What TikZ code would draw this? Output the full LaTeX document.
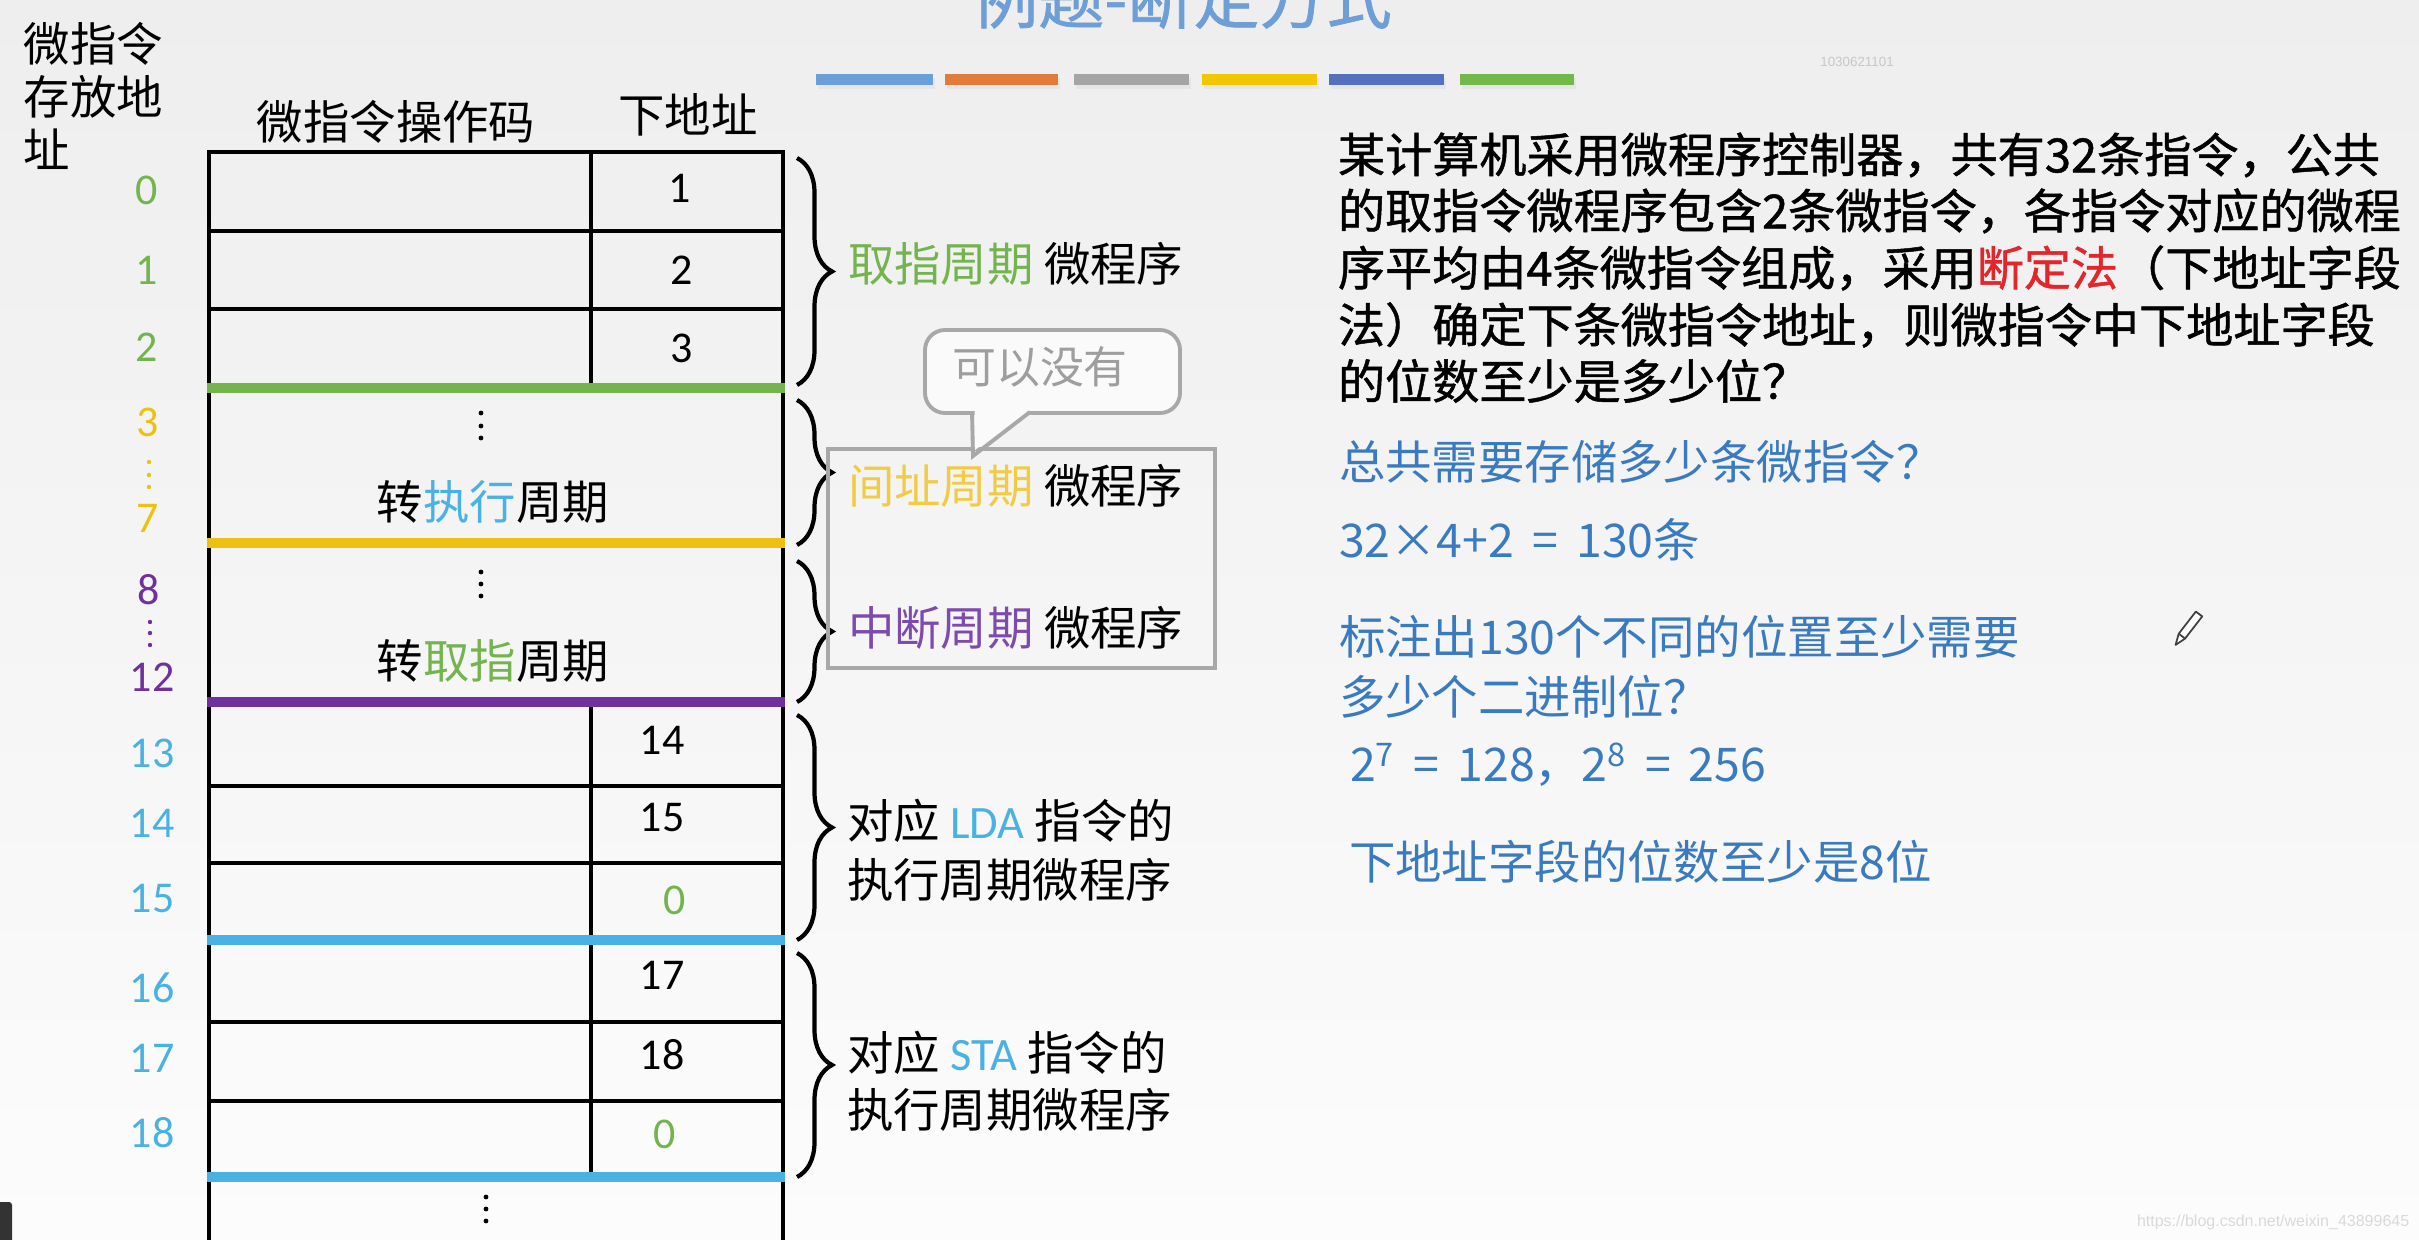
\documentclass[tikz,border=0pt]{standalone}
\usepackage{fontspec}
\setmainfont{Carlito}
\newfontfamily\cjk{Noto Sans CJK SC}
\newfontfamily\cjkb[FakeBold=1]{Noto Sans CJK SC}
\newfontfamily\calfont{Carlito}
\newfontfamily\arialfont{Liberation Sans}
\usetikzlibrary{decorations.pathreplacing}
\definecolor{bgtop}{HTML}{EEEEEE}
\definecolor{bgbot}{HTML}{FCFCFC}
\definecolor{cgreen}{HTML}{74B44E}
\definecolor{cyellow}{HTML}{EDC012}
\definecolor{ytext}{HTML}{F2CB45}
\definecolor{cpurple}{HTML}{7030A0}
\definecolor{ptext}{HTML}{7D4AAE}
\definecolor{cblue}{HTML}{4AB2E3}
\definecolor{ansblue}{HTML}{3A7BC0}
\definecolor{cred}{HTML}{E3262B}
\definecolor{titleblue}{HTML}{6E9ED6}
\definecolor{boxgray}{HTML}{A8A8A8}
\definecolor{bubtext}{HTML}{9E9E9E}
\definecolor{bar1}{HTML}{6A9FD8}
\definecolor{bar2}{HTML}{E07B39}
\definecolor{bar3}{HTML}{A5A5A5}
\definecolor{bar4}{HTML}{F2C600}
\definecolor{bar5}{HTML}{5470BF}
\definecolor{bar6}{HTML}{72B84A}
\definecolor{darkc}{HTML}{333333}
\begin{document}
\begin{tikzpicture}[x=0.01cm, y=-0.01cm,
  every node/.style={inner sep=0pt, outer sep=0pt},
  cjktext/.style={font=\cjk\fontsize{13.2pt}{15.1pt}\selectfont},
  num/.style={font=\calfont\fontsize{12.5pt}{14pt}\selectfont},
  tline/.style={line width=1.3pt, black},
  sepline/.style={line width=3.1pt},
  bracestyle/.style={decorate, decoration={brace, amplitude=0.35cm}, line width=1.2pt},
  lbl/.style={cjktext, anchor=west},
  para/.style={anchor=west, font=\cjkb\fontsize{13.4pt}{16pt}\selectfont},
  ans/.style={anchor=west, text=ansblue, font=\cjk\fontsize{13.2pt}{16pt}\selectfont},
  dotb/.style={fill=black}
]
\useasboundingbox (0,0) rectangle (2419,1240);
\shade[top color=bgtop, bottom color=bgbot] (0,0) rectangle (2419,1240);

% title and bars
\node[font=\cjkb\fontsize{18.8pt}{20pt}\selectfont, text=titleblue] (title) at (1182,-2) {例题-断定方式};
\foreach \a/\b/\c in {816/933/bar1, 945/1058/bar2, 1074/1189/bar3, 1202/1317/bar4, 1329/1444/bar5, 1460/1574/bar6} {
  \fill[black!10] (\a+2,78) rectangle (\b+2,89);
  \fill[\c] (\a,74) rectangle (\b,85);
}
\node[font=\arialfont\fontsize{3.8pt}{4pt}\selectfont, text=black!22] (code) at (1857,62) {1030621101};

% headers
\node[cjktext, anchor=west, align=left] (haddr) at (24,96) {微指令\\存放地\\址};
\node[cjktext] (hop) at (396,122) {微指令操作码};
\node[cjktext] (hnext) at (688,115) {下地址};

% address labels
\node[num, text=cgreen] (a0) at (147,190) {0};
\node[num, text=cgreen] (a1) at (147,270) {1};
\node[num, text=cgreen] (a2) at (147,347) {2};
\node[num, text=cyellow] (a3) at (148,422) {3};
\foreach \y in {462,475,487} \fill[cyellow] (149,\y) circle (0.022cm);
\node[num, text=cyellow] (a7) at (148,518) {7};
\node[num, text=cpurple] (a8) at (149,590) {8};
\foreach \y in {622,633,645} \fill[cpurple] (150,\y) circle (0.022cm);
\node[num, text=cpurple] (a12) at (152,677) {12};
\node[num, text=cblue] (a13) at (152,753) {13};
\node[num, text=cblue] (a14) at (152,823) {14};
\node[num, text=cblue] (a15) at (152,898) {15};
\node[num, text=cblue] (a16) at (152,988) {16};
\node[num, text=cblue] (a17) at (152,1058) {17};
\node[num, text=cblue] (a18) at (152,1133) {18};

% table
\draw[tline] (209,152) -- (209,1245);
\draw[tline] (783,152) -- (783,1245);
\draw[tline] (207,152) -- (785,152);
\foreach \y in {231,309,786,863,1022,1101} \draw[tline] (209,\y) -- (783,\y);
\draw[tline] (591,152) -- (591,388);
\draw[tline] (591,702) -- (591,1177);
\draw[sepline, cgreen] (207,388) -- (785,388);
\draw[sepline, cyellow] (207,543) -- (785,543);
\draw[sepline, cpurple] (207,702) -- (785,702);
\draw[sepline, cblue] (207,940) -- (785,940);
\draw[sepline, cblue] (207,1177) -- (785,1177);

% table contents
\node[num] (n0) at (680,188) {1};
\node[num] (n1) at (682,270) {2};
\node[num] (n2) at (682,348) {3};
\node[num] (n13) at (662,740) {14};
\node[num] (n14) at (662,818) {15};
\node[num, text=cgreen] (n15) at (675,900) {0};
\node[num] (n16) at (662,975) {17};
\node[num] (n17) at (662,1055) {18};
\node[num, text=cgreen] (n18) at (665,1134) {0};
\foreach \y in {413,426,438} \fill[dotb] (481,\y) circle (0.024cm);
\foreach \y in {572,584,596} \fill[dotb] (481,\y) circle (0.024cm);
\foreach \y in {1197,1209,1221} \fill[dotb] (486,\y) circle (0.024cm);
\node[cjktext] (blk1) at (493,502) {转\textcolor{cblue}{执行}周期};
\node[cjktext] (blk2) at (493,661) {转\textcolor{cgreen}{取指}周期};

% braces
\draw[bracestyle] (797,158) -- (797,385);
\draw[bracestyle] (797,400) -- (797,545);
\draw[bracestyle] (797,561) -- (797,702);
\draw[bracestyle] (797,715) -- (797,940);
\draw[bracestyle] (797,953) -- (797,1177);

% gray box and bubble
\draw[boxgray, line width=1.1pt] (828,449) rectangle (1215,668);
\draw[boxgray, line width=1.1pt, fill=white!98!black, rounded corners=0.2cm] (925,330) rectangle (1180,413);
\fill[white!98!black] (974.5,400) -- (974.5,413) -- (975,450) -- (1026,413) -- (1040,400) -- cycle;
\draw[boxgray, line width=1.1pt, line join=miter] (972,412) -- (973,456) -- (1030,412);
\node[font=\cjk\fontsize{12.5pt}{14pt}\selectfont, text=bubtext] (bub) at (1040,367) {可以没有};

% brace labels
\node[lbl] (l1) at (848,264) {\textcolor{cgreen}{取指周期} 微程序};
\node[lbl] (l2) at (848,486) {\textcolor{ytext}{间址周期} 微程序};
\node[lbl] (l3) at (848,628) {\textcolor{ptext}{中断周期} 微程序};
\node[lbl] (l4a) at (847,821) {对应 \textcolor{cblue}{\calfont LDA} 指令的};
\node[lbl] (l4b) at (847,880) {执行周期微程序};
\node[lbl] (l5a) at (847,1053) {对应 \textcolor{cblue}{\calfont STA} 指令的};
\node[lbl] (l5b) at (847,1110) {执行周期微程序};

% question paragraph
\node[para] (p1) at (1338,155) {某计算机采用微程序控制器，共有32条指令，公共};
\node[para] (p2) at (1338,211) {的取指令微程序包含2条微指令，各指令对应的微程};
\node[para] (p3) at (1338,268) {序平均由4条微指令组成，采用\textcolor{cred}{断定法}（下地址字段};
\node[para] (p4) at (1338,325) {法）确定下条微指令地址，则微指令中下地址字段};
\node[para] (p5) at (1338,381) {的位数至少是多少位？};

% answers
\node[ans] (q1) at (1339,462) {总共需要存储多少条微指令？};
\node[ans] (q2) at (1339,540) {32×4+2 \,=\, 130条};
\node[ans] (q3) at (1339,637) {标注出130个不同的位置至少需要};
\node[ans] (q4) at (1339,697) {多少个二进制位？};
\node[ans] (q5) at (1350,765) {2\textsuperscript{7} \,=\, 128，2\textsuperscript{8} \,=\, 256};
\node[ans] (q6) at (1349,862) {下地址字段的位数至少是8位};

% pencil cursor
\draw[black!75, line width=0.5pt, fill=white, line join=round] (2195.8,611.6) -- (2202.2,616.4) -- (2185.0,638.6) -- (2175.5,645) -- (2178.7,633.7) -- cycle;
\draw[black!75, line width=0.5pt] (2185.0,638.6) -- (2178.7,633.7);

% watermark and corner
\node[font=\arialfont\fontsize{4.55pt}{5pt}\selectfont, text=black!15, anchor=west] (wm) at (2137,1222) {https://blog.csdn.net/weixin\_43899645};
\fill[darkc, rounded corners=0.03cm] (-5,1202) rectangle (12,1250);
\end{tikzpicture}
\end{document}
